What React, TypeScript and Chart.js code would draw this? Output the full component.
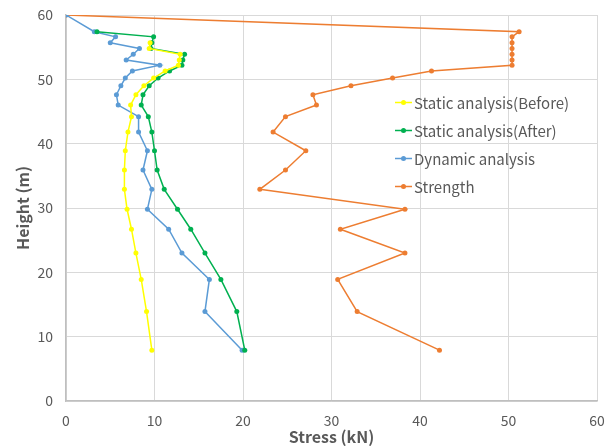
import React, { useEffect, useRef } from "react";
import { Chart, registerables } from "chart.js";

Chart.register(...registerables);

const heights = [57.4, 56.6, 55.7, 54.8, 53.9, 53.0, 52.2, 51.3, 50.2, 49.0, 47.6, 46.0, 44.2, 41.8, 38.9, 35.9, 32.9, 29.8, 26.7, 23.0, 18.9, 13.9, 7.9];

const staticBeforeHeights = heights.slice(2);
const staticBefore = [9.5, 9.4, 12.9, 12.8, 12.7, 11.2, 9.9, 8.8, 7.9, 7.3, 7.4, 7.0, 6.7, 6.6, 6.6, 6.9, 7.4, 7.9, 8.5, 9.1, 9.7];

const staticAfter = [3.5, 9.9, 9.7, 9.6, 13.4, 13.2, 13.1, 11.7, 10.4, 9.4, 8.7, 8.5, 9.3, 9.7, 10.0, 10.3, 11.1, 12.6, 14.1, 15.7, 17.5, 19.3, 20.2];

const dynamicHeights = [60, ...heights];
const dynamic = [0, 3.2, 5.6, 5.0, 8.3, 7.6, 6.8, 10.6, 7.5, 6.7, 6.2, 5.7, 5.9, 8.2, 8.2, 9.2, 8.7, 9.7, 9.2, 11.6, 13.1, 16.2, 15.7, 19.9];

const strengthHeights = [60, ...heights];
const strength = [0, 51.2, 50.4, 50.4, 50.4, 50.4, 50.4, 50.4, 41.3, 36.9, 32.2, 27.9, 28.3, 24.8, 23.4, 27.1, 24.8, 21.9, 38.3, 31.0, 38.3, 30.7, 32.9, 42.2];

const seriesNames = ["Static analysis(Before)", "Static analysis(After)", "Dynamic analysis", "Strength"];
const seriesColors = ["#FFFF00", "#00B050", "#5B9BD5", "#ED7D31"];

const xTitle = "Stress (kN)";
const yTitle = "Height (m)";

const toPoints = (xs: number[], ys: number[]) => xs.map((x, i) => ({ x, y: ys[i] }));

const FONT = "'Noto Sans CJK JP', 'Noto Sans', sans-serif";
const TEXT = "#595959";

const legendPlugin = {
  id: "insideLegend",
  afterDraw(chart: any) {
    const ctx = chart.ctx;
    ctx.save();
    ctx.font = `15px ${FONT}`;
    ctx.textBaseline = "middle";
    ctx.textAlign = "left";
    chart.data.datasets.forEach((ds: any, i: number) => {
      const y = 102.5 + i * 28;
      const x0 = 395;
      ctx.strokeStyle = ds.borderColor;
      ctx.lineWidth = 1.5;
      ctx.beginPath();
      ctx.moveTo(x0, y);
      ctx.lineTo(x0 + 17, y);
      ctx.stroke();
      ctx.fillStyle = ds.borderColor;
      ctx.beginPath();
      ctx.arc(x0 + 8.5, y, 2.5, 0, Math.PI * 2);
      ctx.fill();
      ctx.fillStyle = TEXT;
      ctx.fillText(ds.label, x0 + 19, y + 1);
    });
    ctx.restore();
  },
};

export default function App() {
  const ref = useRef<HTMLCanvasElement | null>(null);
  useEffect(() => {
    document.body.style.margin = "0";
    const canvas = ref.current!;
    const mk = (label: string, color: string, pts: { x: number; y: number }[]) => ({
      label,
      data: pts,
      showLine: true,
      borderColor: color,
      backgroundColor: color,
      borderWidth: 1.5,
      pointRadius: 2.5,
      pointHoverRadius: 2.5,
      pointBorderWidth: 0,
      tension: 0,
    });
    const chart = new Chart(canvas, {
      type: "scatter",
      data: {
        datasets: [
          mk(seriesNames[0], seriesColors[0], toPoints(staticBefore, staticBeforeHeights)),
          mk(seriesNames[1], seriesColors[1], toPoints(staticAfter, heights)),
          mk(seriesNames[2], seriesColors[2], toPoints(dynamic, dynamicHeights)),
          mk(seriesNames[3], seriesColors[3], toPoints(strength, strengthHeights)),
        ],
      },
      options: {
        responsive: false,
        animation: false,
        layout: { padding: { top: 15, right: 9, left: 0, bottom: 0 } },
        plugins: { legend: { display: false }, tooltip: { enabled: false } },
        scales: {
          x: {
            type: "linear",
            min: 0,
            max: 60,
            ticks: { stepSize: 10, color: TEXT, font: { size: 14, family: FONT }, padding: 0 },
            grid: { color: "#D9D9D9", drawTicks: true, tickLength: 11, tickColor: "rgba(0,0,0,0)", lineWidth: 1 },
            border: { color: "#BFBFBF", width: 1.5 },
            title: {
              display: true,
              text: xTitle,
              color: TEXT,
              font: { size: 16, weight: "bold", family: FONT },
              padding: { top: 0, bottom: 1 },
            },
            afterFit: (s: any) => {
              s.height = 47;
            },
          },
          y: {
            type: "linear",
            min: 0,
            max: 60,
            ticks: { stepSize: 10, color: TEXT, font: { size: 14, family: FONT }, padding: 0 },
            grid: { color: "#D9D9D9", drawTicks: true, tickLength: 13, tickColor: "rgba(0,0,0,0)", lineWidth: 1 },
            border: { color: "#BFBFBF", width: 1.5 },
            title: {
              display: true,
              text: yTitle,
              color: TEXT,
              font: { size: 16, weight: "bold", family: FONT },
              padding: { top: 13, bottom: 0 },
            },
            afterFit: (s: any) => {
              s.width = 66;
            },
          },
        },
      } as any,
      plugins: [legendPlugin],
    });
    return () => chart.destroy();
  }, []);
  return (
    <div style={{ position: "absolute", left: 0, top: 0, width: 606, height: 448, background: "#fff" }}>
      <canvas ref={ref} width={606} height={448} />
    </div>
  );
}
